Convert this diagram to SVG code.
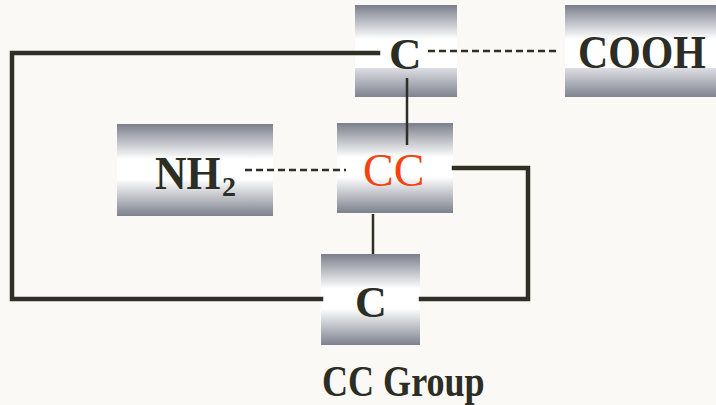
<svg xmlns="http://www.w3.org/2000/svg" width="716" height="405" viewBox="0 0 716 405">
  <defs>
    <linearGradient id="boxGrad" x1="0" y1="0" x2="0" y2="1">
      <stop offset="0" stop-color="#7b7f8b"/>
      <stop offset="0.38" stop-color="#ffffff"/>
      <stop offset="0.6" stop-color="#ffffff"/>
      <stop offset="1" stop-color="#7d818d"/>
    </linearGradient>
    <linearGradient id="topGrad" x1="0" y1="0" x2="0" y2="1">
      <stop offset="0" stop-color="#7b7f8b"/>
      <stop offset="0.37" stop-color="#ffffff"/>
      <stop offset="0.68" stop-color="#ffffff"/>
      <stop offset="0.69" stop-color="#dcdde2"/>
      <stop offset="1" stop-color="#7f838f"/>
    </linearGradient>
    <style>
      .bg { fill: #fbf9f6; }
      .box { fill: url(#boxGrad); }
      .tbox { fill: url(#topGrad); }
      .lbl { font-family: "Liberation Serif", "Times New Roman", serif; font-weight: bold; fill: #2c2d24; }
      .cc { font-family: "Liberation Serif", "Times New Roman", serif; fill: #f5420f; }
      .frame { fill: none; stroke: #2e3026; stroke-width: 4.5; stroke-linejoin: miter; stroke-linecap: square; }
      .thin { fill: none; stroke: #2e3026; stroke-width: 2.5; }
      .dash { fill: none; stroke: #2e3026; stroke-width: 2.5; stroke-dasharray: 7 4; }
    </style>
  </defs>
  <rect class="bg" x="0" y="0" width="716" height="405"/>

  <g id="node-c-top">
    <rect class="tbox" x="355" y="5" width="102" height="92"/>
    <text class="lbl" x="389" y="69" font-size="45">C</text>
  </g>
  <g id="node-cooh">
    <rect class="tbox" x="565" y="5" width="151" height="92"/>
    <text class="lbl" transform="translate(578,68) scale(0.89,1)" x="0" y="0" font-size="47">COOH</text>
  </g>
  <g id="node-nh2">
    <rect class="box" x="117" y="124" width="156" height="92"/>
    <text class="lbl" transform="translate(155,189) scale(0.95,1)" x="0" y="0" font-size="46">NH</text>
    <text class="lbl" x="222" y="196" font-size="28">2</text>
  </g>
  <g id="node-cc">
    <rect class="box" x="337" y="123" width="116" height="90"/>
    <text class="cc" x="363" y="186" font-size="46">CC</text>
  </g>
  <g id="node-c-bottom">
    <rect class="box" x="321" y="254" width="99" height="91"/>
    <text class="lbl" x="355" y="317" font-size="44">C</text>
  </g>
  <g id="caption">
    <text class="lbl" transform="translate(322,396) scale(0.82,1)" x="0" y="0" font-size="44">CC Group</text>
  </g>

  <g id="connectors">
    <polyline class="frame" points="378,53 12,53 12,299 321,299"/>
    <polyline class="frame" points="454,168 528,168 528,299 421,299"/>
    <line class="thin" x1="407" y1="78" x2="407" y2="145"/>
    <line class="thin" x1="373" y1="214" x2="373" y2="254"/>
    <line class="dash" x1="428" y1="51" x2="559" y2="51"/>
    <line class="dash" x1="245" y1="170" x2="346" y2="170"/>
  </g>
</svg>
